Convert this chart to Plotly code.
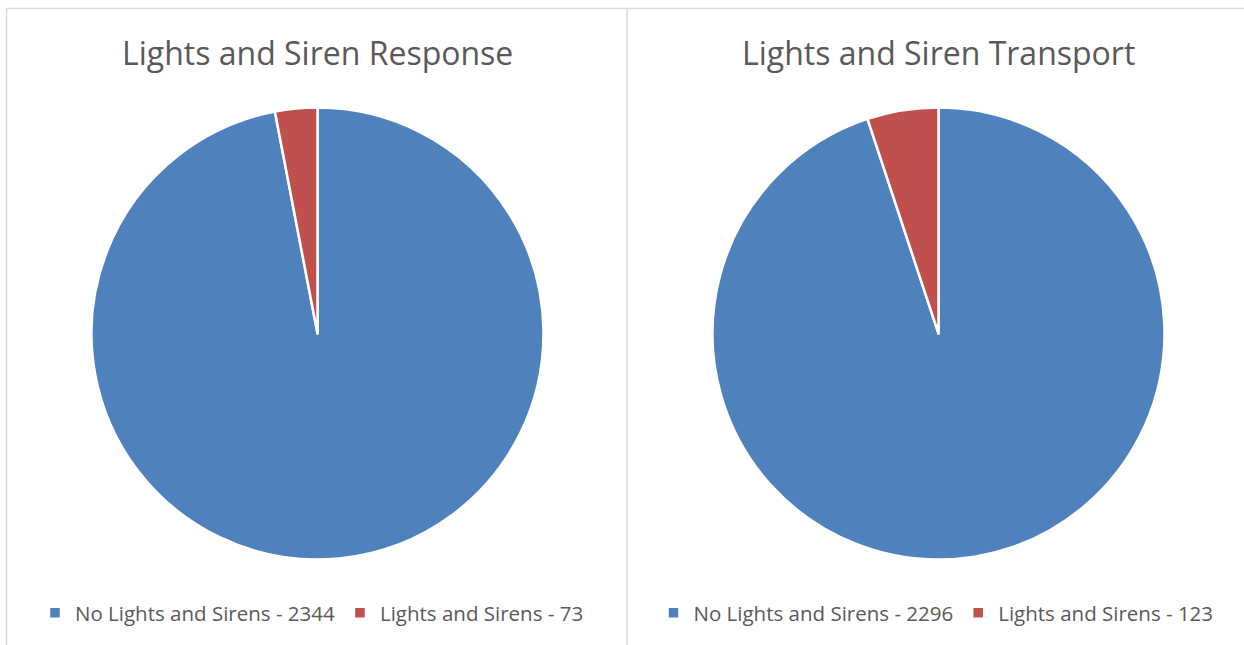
import plotly.graph_objects as go

W, H = 1244, 645

# Data
categories = ["No Lights and Sirens", "Lights and Sirens"]
response_counts = [2344, 73]
transport_counts = [2296, 123]
titles = ["Lights and Siren Response", "Lights and Siren Transport"]
colors = ["#4F81BD", "#C0504D"]

TEXT = "#595959"
GRID = "#D9D9D9"
FONT = "Open Sans"


def px_x(v):
    return v / W


def px_y(v):
    return 1 - v / H


def pie_domain(cx, cy, r):
    return dict(x=[px_x(cx - r), px_x(cx + r)], y=[px_y(cy + r), px_y(cy - r)])


fig = go.Figure()

panels = [
    (response_counts, 317.5, "legend"),
    (transport_counts, 938.5, "legend2"),
]
for counts, cx, leg in panels:
    fig.add_trace(go.Pie(
        labels=[f"{c} - {v}" for c, v in zip(categories, counts)],
        values=counts,
        sort=False,
        direction="clockwise",
        rotation=0,
        textinfo="none",
        hoverinfo="label+percent",
        marker=dict(colors=colors, line=dict(color="white", width=2.5)),
        domain=pie_domain(cx, 333.5, 226),
        legend=leg,
        showlegend=True,
    ))

legend_common = dict(
    orientation="h",
    yanchor="middle",
    xanchor="center",
    y=px_y(613),
    font=dict(family=FONT, size=20.5, color=TEXT),
    bgcolor="rgba(0,0,0,0)",
    itemclick=False,
    itemdoubleclick=False,
    traceorder="normal",
)

fig.update_layout(
    width=W,
    height=H,
    margin=dict(l=0, r=0, t=0, b=0),
    paper_bgcolor="white",
    plot_bgcolor="white",
    legend=dict(x=px_x(312), **legend_common),
    legend2=dict(x=px_x(936), **legend_common),
)

# Titles
for title, cx in zip(titles, [317.5, 938.5]):
    fig.add_annotation(
        text=title, x=px_x(cx), y=px_y(52), xref="paper", yref="paper",
        xanchor="center", yanchor="middle", showarrow=False,
        font=dict(family=FONT, size=32, color=TEXT),
    )

# Frame lines around and between the two panels
for x0, y0, x1, y1 in [
    (6.5, 8.5, W, 8.5),
    (6.5, 8.5, 6.5, H),
    (627, 8.5, 627, H),
]:
    fig.add_shape(
        type="line", xref="paper", yref="paper",
        x0=px_x(x0), y0=px_y(y0), x1=px_x(x1), y1=px_y(y1),
        line=dict(color=GRID, width=1.5),
    )

fig.write_html("out.html")
